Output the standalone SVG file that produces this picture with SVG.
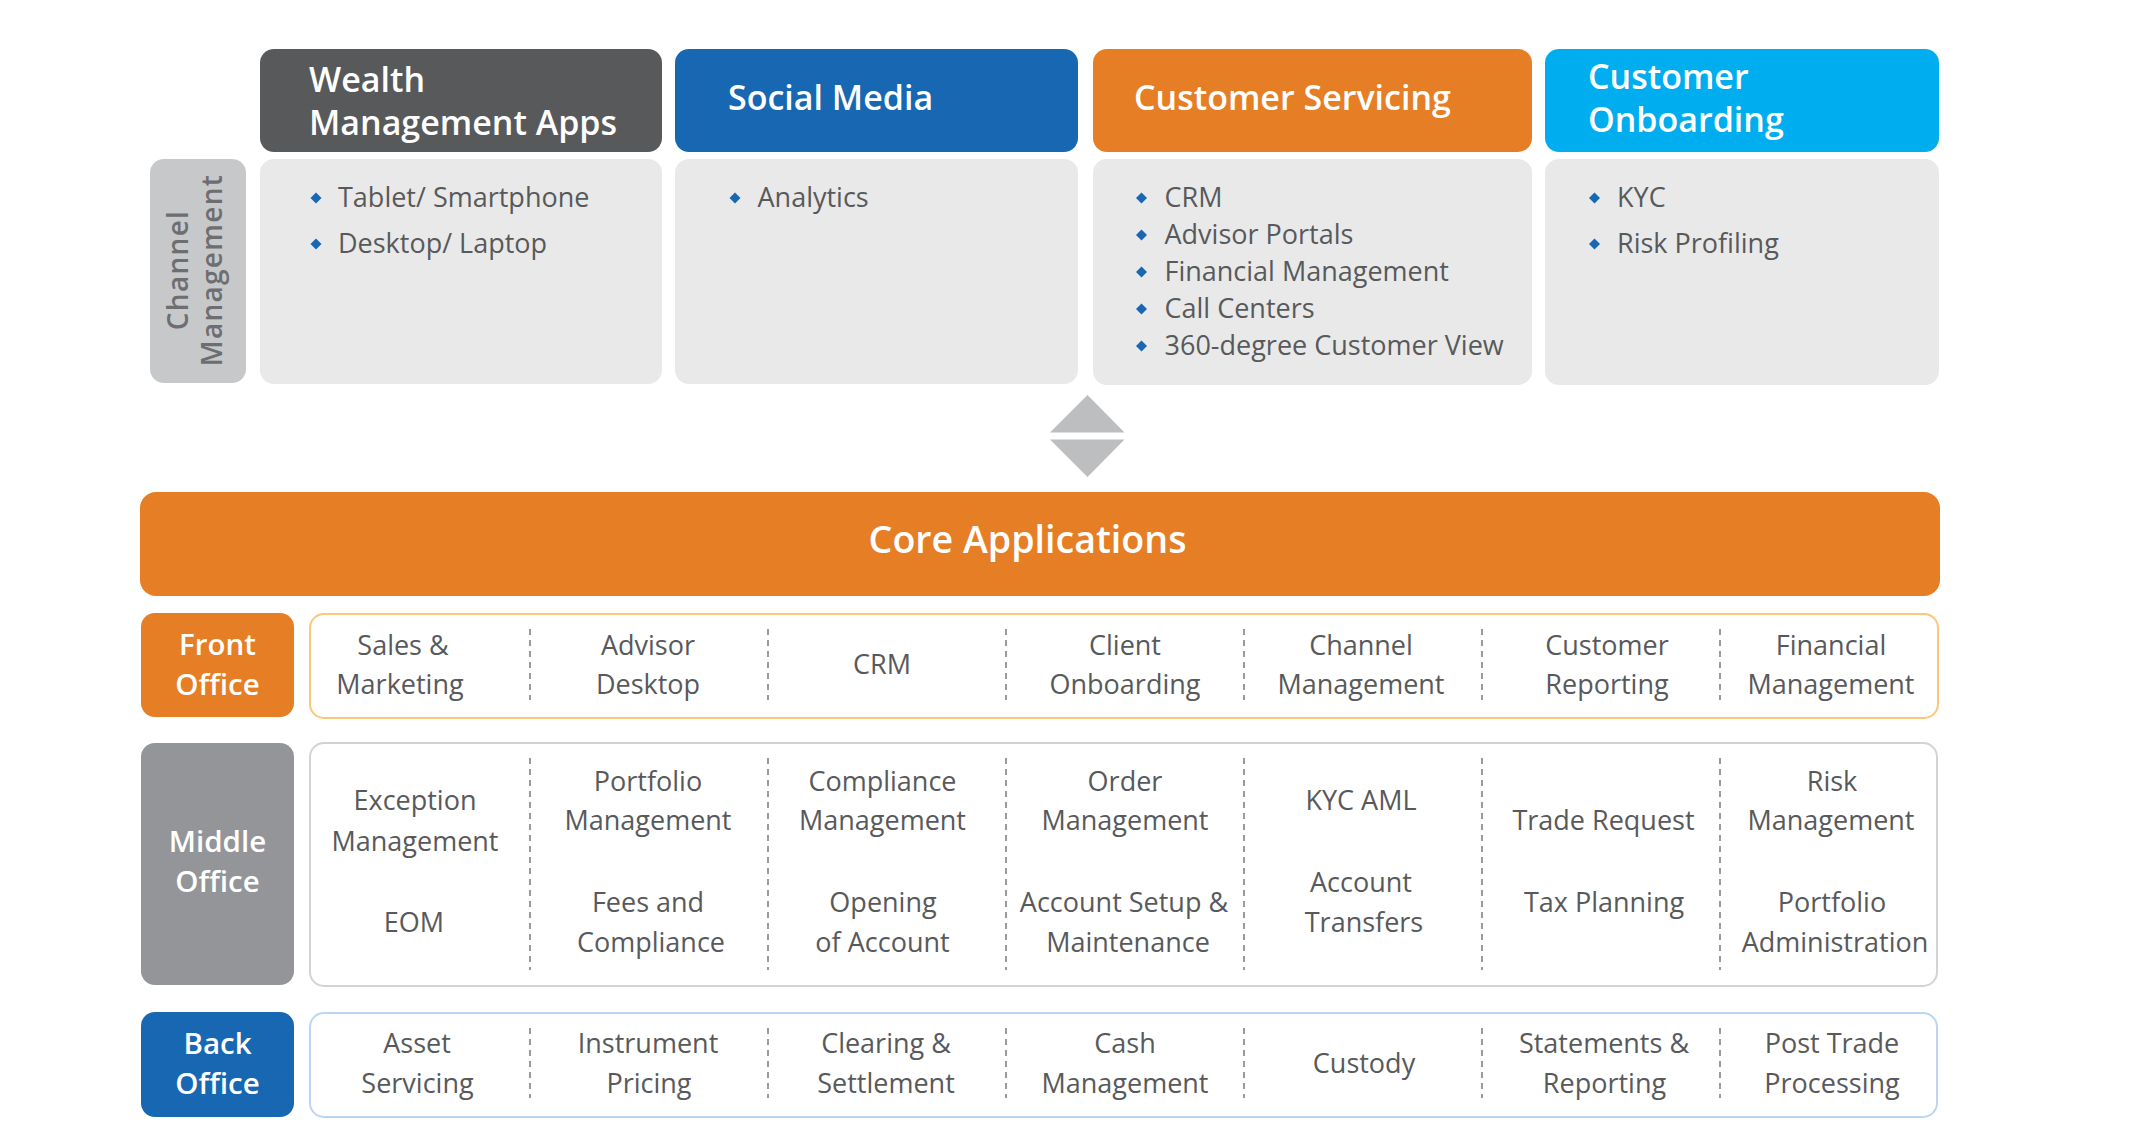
<svg xmlns="http://www.w3.org/2000/svg" width="2156" height="1132" viewBox="0 0 2156 1132">
<style>
text{font-family:"Open Sans","Noto Sans","Liberation Sans",sans-serif}
.hd{font-size:34px;font-weight:600;fill:#ffffff}
.bl{font-size:27px;fill:#58595b}
.it{font-size:27px;fill:#58595b;text-anchor:middle}
.lb{font-size:29.5px;font-weight:600;fill:#ffffff;text-anchor:middle}
.side{font-size:28px;font-weight:600;fill:#6d6e71;text-anchor:middle;letter-spacing:1.3px}
.body{fill:#e9e9ea}
.dv{stroke:#808285;stroke-width:1.6;stroke-dasharray:6 5}
</style>
<defs>
<path id="dm" d="M0,-5.5 L5.5,0 L0,5.5 L-5.5,0 Z" fill="#1767b3"/>
</defs>

<g id="channel-management">
<rect x="150" y="159" width="96" height="224" rx="14" fill="#c7c8ca"/>
<text class="side" transform="translate(188,270) rotate(-90)">Channel</text>
<text class="side" transform="translate(222,270) rotate(-90)">Management</text>
</g>

<g id="wealth-management-apps">
<rect x="260" y="49" width="402" height="103" rx="14" fill="#58595b"/>
<text class="hd" x="309" y="92">Wealth</text>
<text class="hd" x="309" y="135">Management Apps</text>
<rect class="body" x="260" y="159" width="402" height="225" rx="14"/>
<use href="#dm" x="316" y="198"/>
<text class="bl" x="338" y="207">Tablet/ Smartphone</text>
<use href="#dm" x="316" y="244"/>
<text class="bl" x="338" y="253">Desktop/ Laptop</text>
</g>

<g id="social-media">
<rect x="675" y="49" width="403" height="103" rx="14" fill="#1767b3"/>
<text class="hd" x="728" y="110">Social Media</text>
<rect class="body" x="675" y="159" width="403" height="225" rx="14"/>
<use href="#dm" x="735" y="198"/>
<text class="bl" x="757.5" y="207">Analytics</text>
</g>

<g id="customer-servicing">
<rect x="1093" y="49" width="439" height="103" rx="14" fill="#e67e25"/>
<text class="hd" x="1134" y="110">Customer Servicing</text>
<rect class="body" x="1093" y="159" width="439" height="226" rx="14"/>
<use href="#dm" x="1141.5" y="198"/>
<text class="bl" x="1164.5" y="207">CRM</text>
<use href="#dm" x="1141.5" y="235"/>
<text class="bl" x="1164.5" y="244">Advisor Portals</text>
<use href="#dm" x="1141.5" y="272"/>
<text class="bl" x="1164.5" y="281">Financial Management</text>
<use href="#dm" x="1141.5" y="309"/>
<text class="bl" x="1164.5" y="318">Call Centers</text>
<use href="#dm" x="1141.5" y="346"/>
<text class="bl" x="1164.5" y="355">360-degree Customer View</text>
</g>

<g id="customer-onboarding">
<rect x="1545" y="49" width="394" height="103" rx="14" fill="#00aeef"/>
<text class="hd" x="1588" y="89">Customer</text>
<text class="hd" x="1588" y="132">Onboarding</text>
<rect class="body" x="1545" y="159" width="394" height="226" rx="14"/>
<use href="#dm" x="1594.5" y="198"/>
<text class="bl" x="1617" y="207">KYC</text>
<use href="#dm" x="1594.5" y="244"/>
<text class="bl" x="1617" y="253">Risk Profiling</text>
</g>

<g id="connectors">
<polygon points="1087.5,395 1124.5,432.5 1050,432.5" fill="#bcbec0"/>
<polygon points="1050,439.5 1124.5,439.5 1087.5,477" fill="#bcbec0"/>
</g>

<g id="core-applications">
<rect x="140" y="492" width="1800" height="104" rx="16" fill="#e67e25"/>
<text x="1027.5" y="553" font-size="37.6" font-weight="600" fill="#ffffff" text-anchor="middle">Core Applications</text>
</g>

<g id="front-office">
<rect x="141" y="613" width="153" height="104" rx="14" fill="#e67e25"/>
<text class="lb" x="217.5" y="655">Front</text>
<text class="lb" x="217.5" y="695">Office</text>
<rect x="310" y="614" width="1628" height="104" rx="14" fill="#ffffff" stroke="#fdc67a" stroke-width="2"/>
<g class="dv">
<line x1="530" y1="629" x2="530" y2="700"/><line x1="768" y1="629" x2="768" y2="700"/><line x1="1006" y1="629" x2="1006" y2="700"/>
<line x1="1244" y1="629" x2="1244" y2="700"/><line x1="1482" y1="629" x2="1482" y2="700"/><line x1="1720" y1="629" x2="1720" y2="700"/>
</g>
<text class="it" x="403" y="655">Sales &amp;</text><text class="it" x="400" y="694">Marketing</text>
<text class="it" x="648" y="655">Advisor</text><text class="it" x="648" y="694">Desktop</text>
<text class="it" x="882" y="674">CRM</text>
<text class="it" x="1125" y="655">Client</text><text class="it" x="1125" y="694">Onboarding</text>
<text class="it" x="1361" y="655">Channel</text><text class="it" x="1361" y="694">Management</text>
<text class="it" x="1607" y="655">Customer</text><text class="it" x="1607" y="694">Reporting</text>
<text class="it" x="1831" y="655">Financial</text><text class="it" x="1831" y="694">Management</text>
</g>

<g id="middle-office">
<rect x="141" y="743" width="153" height="242" rx="14" fill="#939598"/>
<text class="lb" x="217.5" y="852">Middle</text>
<text class="lb" x="217.5" y="892">Office</text>
<rect x="310" y="743" width="1627" height="243" rx="14" fill="#ffffff" stroke="#d1d3d4" stroke-width="2"/>
<g class="dv">
<line x1="530" y1="758" x2="530" y2="970"/><line x1="768" y1="758" x2="768" y2="970"/><line x1="1006" y1="758" x2="1006" y2="970"/>
<line x1="1244" y1="758" x2="1244" y2="970"/><line x1="1482" y1="758" x2="1482" y2="970"/><line x1="1720" y1="758" x2="1720" y2="970"/>
</g>
<text class="it" x="415" y="810">Exception</text><text class="it" x="415" y="851">Management</text><text class="it" x="414" y="932">EOM</text>
<text class="it" x="648" y="791">Portfolio</text><text class="it" x="648" y="830">Management</text><text class="it" x="648" y="912">Fees and</text><text class="it" x="651" y="952">Compliance</text>
<text class="it" x="882.5" y="791">Compliance</text><text class="it" x="882.5" y="830">Management</text><text class="it" x="883" y="912">Opening</text><text class="it" x="882.5" y="952">of Account</text>
<text class="it" x="1125" y="791">Order</text><text class="it" x="1125" y="830">Management</text><text class="it" x="1124" y="912">Account Setup &amp;</text><text class="it" x="1128" y="952">Maintenance</text>
<text class="it" x="1361" y="810">KYC AML</text><text class="it" x="1361" y="892">Account</text><text class="it" x="1364" y="932">Transfers</text>
<text class="it" x="1603.5" y="830">Trade Request</text><text class="it" x="1604" y="912">Tax Planning</text>
<text class="it" x="1832" y="791">Risk</text><text class="it" x="1831" y="830">Management</text><text class="it" x="1832" y="912">Portfolio</text><text class="it" x="1835" y="952">Administration</text>
</g>

<g id="back-office">
<rect x="141" y="1012" width="153" height="105" rx="14" fill="#1767b3"/>
<text class="lb" x="217.5" y="1054">Back</text>
<text class="lb" x="217.5" y="1094">Office</text>
<rect x="310" y="1013" width="1627" height="104" rx="14" fill="#ffffff" stroke="#b9d7f0" stroke-width="2"/>
<g class="dv">
<line x1="530" y1="1028" x2="530" y2="1098"/><line x1="768" y1="1028" x2="768" y2="1098"/><line x1="1006" y1="1028" x2="1006" y2="1098"/>
<line x1="1244" y1="1028" x2="1244" y2="1098"/><line x1="1482" y1="1028" x2="1482" y2="1098"/><line x1="1720" y1="1028" x2="1720" y2="1098"/>
</g>
<text class="it" x="417" y="1053">Asset</text><text class="it" x="417.5" y="1093">Servicing</text>
<text class="it" x="648" y="1053">Instrument</text><text class="it" x="649" y="1093">Pricing</text>
<text class="it" x="886" y="1053">Clearing &amp;</text><text class="it" x="886" y="1093">Settlement</text>
<text class="it" x="1125" y="1053">Cash</text><text class="it" x="1125" y="1093">Management</text>
<text class="it" x="1364" y="1073">Custody</text>
<text class="it" x="1604" y="1053">Statements &amp;</text><text class="it" x="1604.5" y="1093">Reporting</text>
<text class="it" x="1832" y="1053">Post Trade</text><text class="it" x="1832" y="1093">Processing</text>
</g>
</svg>
